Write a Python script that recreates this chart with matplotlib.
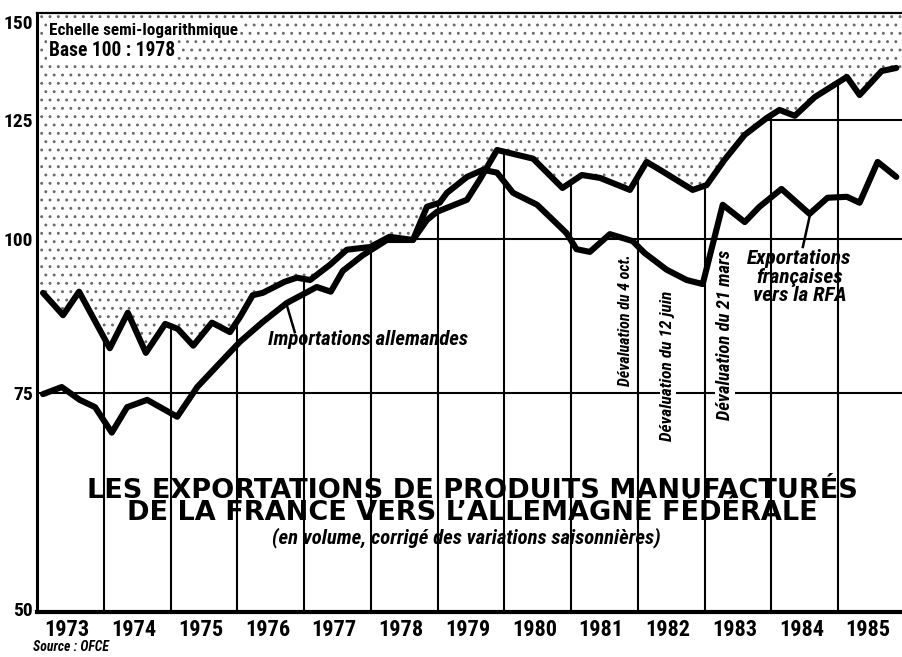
import numpy as np
import matplotlib
matplotlib.use('Agg')
import matplotlib.pyplot as plt
from matplotlib import font_manager

# values (index, base 100 = 1978, semi-log scale)
fr_dates = [1973.09, 1973.39, 1973.63, 1974.09, 1974.36, 1974.63, 1974.92, 1975.11,
            1975.34, 1975.62, 1975.89, 1976.04, 1976.23, 1976.38, 1976.71, 1976.89,
            1977.09, 1977.39, 1977.64, 1977.99, 1978.28, 1978.63, 1978.84, 1979.03,
            1979.14, 1979.44, 1979.68, 1979.89, 1980.13, 1980.49, 1980.68, 1980.93,
            1981.08, 1981.28, 1981.58, 1981.92, 1982.10, 1982.43, 1982.73, 1982.97,
            1983.27, 1983.60, 1983.82, 1984.15, 1984.57, 1984.84, 1985.13, 1985.32,
            1985.59, 1985.87]
fr_values = [90.4, 86.7, 90.6, 81.5, 87.1, 80.8, 85.3, 84.5,
             81.9, 85.5, 84.0, 86.4, 90.0, 90.4, 92.3, 93.0,
             92.6, 95.3, 98.0, 98.5, 100.4, 99.8, 106.2, 107.0,
             109.0, 112.3, 113.8, 113.2, 109.0, 106.6, 104.2, 101.1,
             98.1, 97.6, 100.9, 99.6, 97.4, 94.4, 92.6, 91.9,
             106.6, 103.2, 106.2, 109.8, 104.8, 108.0, 108.2, 107.0,
             115.5, 112.3]

de_dates = [1973.09, 1973.37, 1973.64, 1973.87, 1974.12, 1974.35, 1974.65, 1975.10,
            1975.40, 1975.74, 1976.04, 1976.38, 1976.74, 1977.19, 1977.40, 1977.58,
            1977.88, 1978.24, 1978.63, 1978.84, 1978.99, 1979.44, 1979.63, 1979.89,
            1980.43, 1980.87, 1981.16, 1981.43, 1981.88, 1982.13, 1982.33, 1982.82,
            1983.03, 1983.30, 1983.60, 1983.93, 1984.12, 1984.35, 1984.65, 1985.13,
            1985.32, 1985.65, 1985.87]
de_values = [74.8, 75.8, 74.0, 73.0, 69.6, 73.0, 74.0, 71.7,
             75.8, 79.3, 82.5, 85.6, 88.7, 91.4, 90.6, 94.2,
             97.0, 99.8, 99.8, 103.6, 105.2, 107.6, 111.7, 118.1,
             116.2, 110.0, 112.7, 112.1, 109.6, 115.5, 113.8, 109.6,
             110.6, 116.0, 121.5, 125.4, 127.3, 125.9, 130.4, 135.4,
             130.9, 136.9, 137.7]

years = list(range(1973, 1986))
yticks = [50, 75, 100, 125, 150]
hlines = [75, 100, 125]
devaluations = ["Dévaluation du 4 oct.", "Dévaluation du 12 juin", "Dévaluation du 21 mars"]

# pick a narrow sans if there is one, Arial-like otherwise
names = {f.name for f in font_manager.fontManager.ttflist}
narrow = 'Liberation Sans'
for cand in ['Liberation Sans Narrow', 'Roboto Condensed', 'Open Sans Condensed']:
    if cand in names:
        narrow = cand
        break

W, H = 903, 657
fig = plt.figure(figsize=(W / 100, H / 100), dpi=100)
renderer = fig.canvas.get_renderer()


def fit(t, length):
    # scale font so the text spans `length` pixels
    bb = t.get_window_extent(renderer)
    t.set_fontsize(t.get_fontsize() * length / max(bb.width, bb.height))
    return t


ax = fig.add_axes([37 / W, 1 - 612 / H, 1 - 37 / W, (612 - 13) / H])
ax.set_yscale('log')
ax.set_xlim(1973, 1985.97)
ax.set_ylim(49.76, 152.6)

# grid: vertical lines at year boundaries, horizontal at 75/100/125
for yr in years[1:]:
    ax.axvline(yr, color='black', lw=1.5, zorder=1)
for v in hlines:
    ax.axhline(v, color='black', lw=1.5, zorder=1)

# stippled area above the upper curve
xs = np.linspace(1973, 1986, 1400)
env = np.maximum(np.interp(xs, fr_dates, fr_values), np.interp(xs, de_dates, de_values))
plt.rcParams['hatch.linewidth'] = 0.9
ax.fill_between(xs, env, 152.6, facecolor='white', edgecolor='#6a6a6a',
                hatch='..', linewidth=0, zorder=2)

ax.plot(de_dates, de_values, color='black', lw=4.4, solid_joinstyle='round',
        solid_capstyle='round', zorder=4)
ax.plot(fr_dates, fr_values, color='black', lw=4.4, solid_joinstyle='round',
        solid_capstyle='round', zorder=4)

# axes styling
ax.spines['right'].set_visible(False)
ax.spines['left'].set_linewidth(2.2)
ax.spines['bottom'].set_linewidth(3.0)
ax.spines['top'].set_linewidth(1.6)
ax.minorticks_off()
ax.set_yticks(yticks)
ax.set_yticklabels([str(v) for v in yticks])
ax.set_xticks([y + 0.45 for y in years])
ax.set_xticklabels([str(y) for y in years])
ax.tick_params(length=0)
ax.tick_params(axis='y', pad=3)
ax.tick_params(axis='x', pad=5)
for lab in ax.get_yticklabels():
    lab.set_fontfamily(narrow)
    lab.set_fontweight('bold')
    lab.set_fontsize(14)
for lab in ax.get_xticklabels():
    lab.set_fontfamily(narrow)
    lab.set_fontweight('bold')
    lab.set_fontsize(16)

# labels on the curves
ax.plot([1976.74, 1976.86], [88.4, 84.0], color='black', lw=1.8, zorder=5)
fit(ax.text(1977.96, 82.8, 'Importations allemandes', ha='center', va='center',
            family=narrow, weight='bold', style='italic', fontsize=12, zorder=6), 200)
ax.plot([1984.57, 1984.47], [104.2, 98.5], color='black', lw=1.8, zorder=5)
t = ax.text(1984.42, 93.1, 'Exportations\nfrançaises\nvers la RFA', ha='center', va='center',
            family=narrow, weight='bold', style='italic', fontsize=12, linespacing=0.95, zorder=6)
fit(t, 104)

dev_pos = [(1981.82, 85.9), (1982.45, 78.9), (1983.31, 83.6)]
dev_len = [132, 150, 170]
for txt, (dx, dy), ln in zip(devaluations, dev_pos, dev_len):
    fit(ax.text(dx, dy, txt, rotation=90, ha='center', va='center', family=narrow,
                weight='bold', style='italic', fontsize=10, zorder=3.5,
                bbox=dict(facecolor='white', edgecolor='none', pad=0.5)), ln)

# text blocks
fit(fig.text(49 / W, 1 - 30 / H, 'Echelle semi-logarithmique', ha='left', va='center',
             family=narrow, weight='bold', fontsize=10,
             bbox=dict(facecolor='white', edgecolor='none', pad=1)), 189)
fit(fig.text(49 / W, 1 - 50 / H, 'Base 100 : 1978', ha='left', va='center',
             family=narrow, weight='bold', fontsize=13,
             bbox=dict(facecolor='white', edgecolor='none', pad=1)), 126)

fig.text(472 / W, 1 - 502 / H,
         'LES EXPORTATIONS DE PRODUITS MANUFACTURÉS\nDE LA FRANCE VERS L\u2019ALLEMAGNE FÉDÉRALE',
         ha='center', va='center', multialignment='center', linespacing=0.79,
         family='DejaVu Sans', weight='bold', fontsize=19.5)
fit(fig.text(466 / W, 1 - 538 / H, '(en volume, corrigé des variations saisonnières)',
             ha='center', va='center', family=narrow, weight='bold', style='italic',
             fontsize=11), 388)

fit(fig.text(33 / W, 1 - 647 / H, 'Source : OFCE', ha='left', va='center',
             family=narrow, weight='bold', style='italic', fontsize=10), 76)

fig.savefig('out.png', dpi=100)
